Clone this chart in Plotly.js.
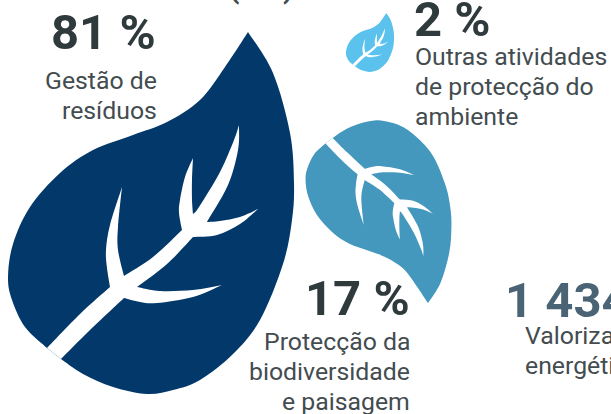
<!DOCTYPE html>
<html><head><meta charset="utf-8">
<script src="https://cdn.plot.ly/plotly-3.0.1.min.js"></script>
<style>html,body{margin:0;padding:0;background:#fff;overflow:hidden}#c{width:611px;height:414px}</style>
</head><body><div id="c"></div>
<script>
// Content
const shares = ["81 %", "17 %", "2 %"];
const shareValue = "1 434";
const labelsA = ["Gestão de", "resíduos"];
const labelsB = ["Protecção da", "biodiversidade", "e paisagem"];
const labelsC = ["Outras atividades", "de protecção do", "ambiente"];
const labelsD = ["Valorização", "energética"];
const topTitle = "(M€)";

// Leaf template (corners split the runs; each run is smoothed)
const leafOutline = [
 [[248,32],[273,73],[290,133],[294,183],[292,220],[283,264],[260,320],[233,354],[200,380],[173,390],[147,394],[113,387],[83,374],[61,359]],
 [[61,359],[47,348]],
 [[47,348],[25,327],[12,300],[8,277],[13,244],[30,207],[60,173],[93,150],[133,135],[167,122],[200,100],[225,67],[248,32]]
];
const leafVein = [
 [[47,348],[80,314],[110,287]],
 [[110,287],[107,268],[106,250],[110,225],[122,187]],
 [[122,187],[118,227],[118,250],[124,276]],
 [[124,276],[153,257],[182,230]],
 [[182,230],[179,213],[180,200],[185,177],[193,158]],
 [[193,158],[192,180],[192,200],[193,214]],
 [[193,214],[199,207],[220,172],[234,140],[239,125]],
 [[239,125],[238,150],[228,185],[207,222]],
 [[207,222],[220,221],[240,217],[258,209]],
 [[258,209],[240,224],[217,235],[193,237]],
 [[193,237],[167,264],[137,287]],
 [[137,287],[160,291],[193,290],[222,285]],
 [[222,285],[193,297],[157,303],[140,302],[124,298]],
 [[124,298],[90,330],[61,359]],
 [[61,359],[47,348]]
];
function smooth(runs, t){
  let d = "";
  runs.forEach((run, ri)=>{
    const p = run.map(t);
    if(ri===0) d += "M"+p[0][0].toFixed(2)+","+p[0][1].toFixed(2);
    for(let i=0;i<p.length-1;i++){
      const a=p[Math.max(i-1,0)], b=p[i], c=p[i+1], e=p[Math.min(i+2,p.length-1)];
      const c1=[b[0]+(c[0]-a[0])/6,b[1]+(c[1]-a[1])/6], c2=[c[0]-(e[0]-b[0])/6,c[1]-(e[1]-b[1])/6];
      d+=`C${c1[0].toFixed(2)},${c1[1].toFixed(2)} ${c2[0].toFixed(2)},${c2[1].toFixed(2)} ${c[0].toFixed(2)},${c[1].toFixed(2)}`;
    }
  });
  return d+"Z";
}
function leaf(color, t){
  return [
    {type:"path",xref:"x",yref:"y",path:smooth(leafOutline,t),fillcolor:color,line:{width:0},layer:"below"},
    {type:"path",xref:"x",yref:"y",path:smooth(leafVein,t),fillcolor:"#ffffff",line:{width:0},layer:"below"}
  ];
}
const big = p=>p;
const mid = p=>[329+(p[0]-54)*0.51, 141+(353-p[1])*0.505];
const small = p=>[346+(p[0]-8)*0.168, 13+(p[1]-32)*0.163];
const shapes = [...leaf("#03396a",big),...leaf("#4498bd",mid),...leaf("#5bc2ee",small)];

const head = {family:"Roboto, sans-serif",size:49,color:"#2f3a3c",weight:700};
const body = {family:"Roboto, sans-serif",size:24.8,color:"#434c4f"};
function note(text,x,y,anchor,font,ya){return {text,x,y,xref:"x",yref:"y",xanchor:anchor,yanchor:ya||"middle",showarrow:false,font,borderpad:0,borderwidth:0};}
const annotations = [
  note(shares[0],156,32,"right",head),
  ...labelsA.map((s,i)=>note(s,157,80+i*30,"right",body)),
  note(shares[1],410,298,"right",head),
  ...labelsB.map((s,i)=>note(s,410,341+i*30,"right",body)),
  note(shares[2],414,19,"left",head),
  ...labelsC.map((s,i)=>note(s,415,56+i*30,"left",body)),
  note(shareValue,505,300,"left",{...head,color:"#4a6475"}),
  ...labelsD.map((s,i)=>note(s,525,335+i*30,"left",body)),
  note(topTitle,261,5,"center",{...head,size:30,color:"#434c4f"},"bottom")
];
Plotly.newPlot("c",[{type:"scatter",x:[0,611],y:[0,414],mode:"none",hoverinfo:"skip",showlegend:false}],{
  width:611,height:414,margin:{l:0,r:0,t:0,b:0},paper_bgcolor:"#fff",plot_bgcolor:"#fff",
  xaxis:{range:[0,611],visible:false,fixedrange:true},
  yaxis:{range:[414,0],visible:false,fixedrange:true},
  shapes,annotations,showlegend:false
},{displayModeBar:false,staticPlot:true});
</script></body></html>
